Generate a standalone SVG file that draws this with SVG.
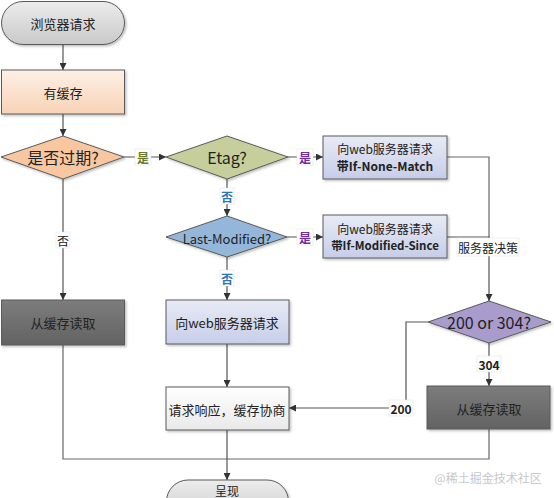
<svg xmlns="http://www.w3.org/2000/svg" width="554" height="498" viewBox="0 0 554 498">
<defs>
<linearGradient id="gGray" x1="0" y1="0" x2="0" y2="1"><stop offset="0" stop-color="#ececec"/><stop offset="1" stop-color="#c9c9c9"/></linearGradient>
<linearGradient id="gPeach" x1="0" y1="0" x2="0" y2="1"><stop offset="0" stop-color="#fdf0e6"/><stop offset="1" stop-color="#f8d3b6"/></linearGradient>
<linearGradient id="gLav" x1="0" y1="0" x2="0" y2="1"><stop offset="0" stop-color="#e8ebf6"/><stop offset="1" stop-color="#c6cde8"/></linearGradient>
<linearGradient id="gDark" x1="0" y1="0" x2="0" y2="1"><stop offset="0" stop-color="#7c7c7c"/><stop offset="1" stop-color="#636363"/></linearGradient>
<linearGradient id="gWhite" x1="0" y1="0" x2="0" y2="1"><stop offset="0" stop-color="#ffffff"/><stop offset="1" stop-color="#e9e9e9"/></linearGradient>
<filter id="sh" x="-10%" y="-10%" width="125%" height="135%"><feDropShadow dx="1.5" dy="1.5" stdDeviation="1" flood-color="#000" flood-opacity="0.25"/></filter>
<marker id="ar" viewBox="0 0 10 10" refX="10" refY="5" markerWidth="7" markerHeight="7" orient="auto" markerUnits="userSpaceOnUse"><path d="M0,0 L10,5 L0,10 z" fill="#333"/></marker>
</defs>
<style>
.n{stroke:#5a5a5a;stroke-width:1;filter:url(#sh)}
.t{font-family:"Noto Sans CJK SC","Liberation Sans",sans-serif;font-size:13px;fill:#222;text-anchor:middle;dominant-baseline:central}
.big{font-size:16px}
.b{font-weight:bold}
.c{fill:none;stroke:#666;stroke-width:1.2}
.ca{fill:none;stroke:#555;stroke-width:1.2;marker-end:url(#ar)}
.lb{fill:#fff;stroke:#ddd;stroke-width:0.5}
.lt{font-family:"Noto Sans CJK SC","Liberation Sans",sans-serif;font-size:12px;font-weight:bold;text-anchor:middle;dominant-baseline:central}
.nb{font-weight:normal}
</style>
<rect width="554" height="498" fill="#fff"/>
<g id="connectors">
<line class="ca" x1="63" y1="45" x2="63" y2="70"/>
<line class="ca" x1="63" y1="114" x2="63" y2="136"/>
<line class="ca" x1="124" y1="157" x2="166" y2="157"/>
<line class="ca" x1="288" y1="157" x2="323" y2="157"/>
<line class="ca" x1="227" y1="179" x2="227" y2="216"/>
<line class="ca" x1="287" y1="237" x2="323" y2="237"/>
<line class="ca" x1="227" y1="257" x2="227" y2="300"/>
<line class="ca" x1="63" y1="179" x2="63" y2="300"/>
<polyline class="c" points="447,157 489,157 489,237"/>
<polyline class="ca" points="447,237 489,237 489,301"/>
<line class="ca" x1="489" y1="343" x2="489" y2="386"/>
<polyline class="ca" points="428,322 406,322 406,408 289,408"/>
<line class="ca" x1="227" y1="344" x2="227" y2="387"/>
<polyline class="c" points="63,345 63,459 227,459"/>
<polyline class="c" points="489,429 489,459 227,459"/>
<line class="ca" x1="227" y1="430" x2="227" y2="480"/>
<rect class="lb" x="135" y="149" width="16" height="16"/><text class="lt" x="143" y="157" fill="#6b7a2a">是</text>
<rect class="lb" x="297" y="149" width="16" height="16"/><text class="lt" x="305" y="157" fill="#7030a0">是</text>
<rect class="lb" x="297" y="229" width="16" height="16"/><text class="lt" x="305" y="237" fill="#7030a0">是</text>
<rect class="lb" x="220" y="188" width="14" height="16"/><text class="lt" x="227" y="196" fill="#2e75b6">否</text>
<rect class="lb" x="220" y="270" width="14" height="16"/><text class="lt" x="227" y="278" fill="#2e75b6">否</text>
<rect class="lb" x="56" y="232" width="14" height="16"/><text class="lt nb" x="63" y="240" fill="#222">否</text>
<rect class="lb" x="477" y="356" width="24" height="16"/><text class="lt" x="489" y="364" fill="#222">304</text>
<rect class="lb" x="389" y="400" width="24" height="16"/><text class="lt" x="401" y="408" fill="#222">200</text>
<rect class="lb" x="457" y="238" width="62" height="18"/><text class="t" x="488" y="247" style="font-size:12px">服务器决策</text>
</g>
<g id="start"><rect class="n" x="1.5" y="1.5" width="123" height="43" rx="21.5" fill="url(#gGray)"/><text class="t" x="63" y="23">浏览器请求</text></g>
<g id="hasCache"><rect class="n" x="1.5" y="70" width="123" height="44" fill="url(#gPeach)"/><text class="t" x="63" y="92">有缓存</text></g>
<g id="expired"><polygon class="n" points="1,157 63,136 124,157 63,179" fill="#f8c7a0"/><text class="t big" x="63" y="157">是否过期?</text></g>
<g id="etag"><polygon class="n" points="166,157 227,136 288,157 227,179" fill="#c6cf9b"/><text class="t big" x="227" y="157">Etag?</text></g>
<g id="lastModified"><polygon class="n" points="166,237 227,216 287,237 227,257" fill="#94b7d9"/><text class="t" x="227" y="238">Last-Modified?</text></g>
<g id="reqNoneMatch"><rect class="n" x="323" y="136" width="124" height="43" fill="url(#gLav)"/><text class="t" x="385" y="148" style="font-size:12px">向web服务器请求</text><text class="t b" x="385" y="165" style="font-size:12px">带If-None-Match</text></g>
<g id="reqModSince"><rect class="n" x="323" y="215" width="124" height="43" fill="url(#gLav)"/><text class="t" x="385" y="228" style="font-size:12px">向web服务器请求</text><text class="t b" x="385" y="245" style="font-size:11.5px">带If-Modified-Since</text></g>
<g id="readCacheLeft"><rect class="n" x="1.5" y="300" width="123" height="45" fill="url(#gDark)"/><text class="t" x="63" y="322" fill="#111">从缓存读取</text></g>
<g id="reqServer"><rect class="n" x="166" y="300" width="123" height="44" fill="url(#gLav)"/><text class="t" x="227" y="322">向web服务器请求</text></g>
<g id="decision"><polygon class="n" points="428,322 489,301 551,322 489,343" fill="#a99bcb"/><text class="t big" x="489" y="322">200 or 304?</text></g>
<g id="readCacheRight"><rect class="n" x="427" y="386" width="123" height="43" fill="url(#gDark)"/><text class="t" x="489" y="408" fill="#111">从缓存读取</text></g>
<g id="negotiate"><rect class="n" x="166" y="387" width="123" height="43" fill="url(#gWhite)"/><text class="t" x="227" y="409">请求响应，缓存协商</text></g>
<g id="render"><rect class="n" x="166.5" y="480" width="122" height="43" rx="21.5" fill="url(#gGray)"/><text class="t" x="227" y="490" style="font-size:12px">呈现</text></g>
<text x="488" y="477" font-family="'Noto Sans CJK SC',sans-serif" font-size="12" fill="#c8c8c8" text-anchor="middle" dominant-baseline="central">@稀土掘金技术社区</text>
</svg>
